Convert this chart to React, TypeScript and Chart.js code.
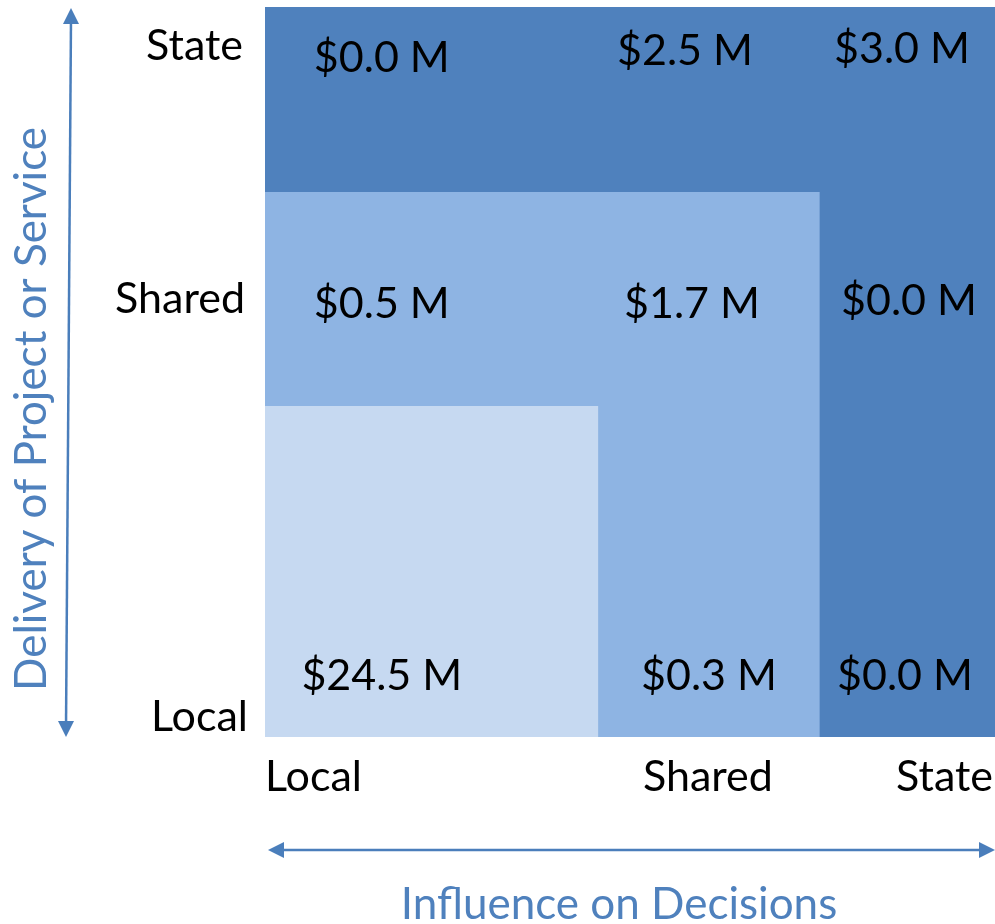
import React, { useEffect, useRef } from "react";
import { Chart, registerables } from "chart.js";

Chart.register(...registerables);

// Axis categories
const influenceLevels = ["Local", "Shared", "State"];
const deliveryLevels = ["Local", "Shared", "State"];
// Tick positions (data units on a 0–3 scale)
const influenceTickValues = [0, 1.82, 3];
const deliveryTickValues = [0.08, 1.8, 2.84];

// Nested zones (back to front): extent along each axis
const zoneNames = ["State", "Shared", "Local"];
const zoneInfluenceExtent = [3, 2.28, 1.37];
const zoneDeliveryExtent = [3, 2.24, 1.36];

// Funding ($M) per delivery row (Local, Shared, State) x influence column (Local, Shared, State)
const localDeliveryValues = [24.5, 0.3, 0.0];
const sharedDeliveryValues = [0.5, 1.7, 0.0];
const stateDeliveryValues = [0.0, 2.5, 3.0];

// Label anchor centres (data units)
const columnCentres = [0.48, 1.8, 2.63];
const rowCentres = [0.26, 1.78, 2.81];

const ZONE_COLORS = ["#4F81BD", "#8EB4E3", "#C6D9F1"];
const AXIS_BLUE = "#4A7EBB";
const FONT = "Lato, 'Open Sans', sans-serif";

// small pixel nudges per cell [row][col] to match the original layout
const NUDGE: [number, number][][] = [
  [[0, 2], [6, 2], [0, 2]],
  [[0, 0], [-11, 0], [4, -3]],
  [[0, 5], [-18, -2], [-3, -4]],
];

export default function App() {
  const ref = useRef<HTMLCanvasElement>(null);

  useEffect(() => {
    if (!ref.current) return;
    const rows = [localDeliveryValues, sharedDeliveryValues, stateDeliveryValues];

    const overlay = {
      id: "overlay",
      afterDatasetsDraw(chart: any) {
        const { ctx, chartArea, scales } = chart;
        const xs = scales.x;
        const ys = scales.y;
        ctx.save();
        // cell value labels
        ctx.fillStyle = "#000";
        ctx.font = `43px ${FONT}`;
        ctx.textAlign = "center";
        ctx.textBaseline = "middle";
        rows.forEach((row, r) => {
          row.forEach((v, c) => {
            const n = NUDGE[r][c];
            const px = xs.getPixelForValue(columnCentres[c]) + n[0];
            const py = ys.getPixelForValue(rowCentres[r]) + n[1];
            ctx.fillText(`$${v.toFixed(1)} M`, px, py);
          });
        });

        // influence (x) tick labels
        const xAligns: CanvasTextAlign[] = ["left", "center", "right"];
        influenceLevels.forEach((lab, i) => {
          ctx.textAlign = xAligns[i];
          let px = xs.getPixelForValue(influenceTickValues[i]);
          if (i === 2) px -= 2;
          ctx.fillText(lab, px, chartArea.bottom + 40);
        });
        // delivery (y) tick labels
        ctx.textAlign = "right";
        const yRight = [248, 245, 243];
        deliveryLevels.forEach((lab, i) => {
          ctx.fillText(lab, yRight[i], ys.getPixelForValue(deliveryTickValues[i]));
        });

        // arrows
        ctx.strokeStyle = AXIS_BLUE;
        ctx.fillStyle = AXIS_BLUE;
        ctx.lineWidth = 2.5;
        // vertical double arrow
        const vx1 = 71, vy1 = chartArea.top + 1, vx2 = 66, vy2 = chartArea.bottom;
        ctx.beginPath();
        ctx.moveTo(vx1, vy1 + 10);
        ctx.lineTo(vx2, vy2 - 10);
        ctx.stroke();
        ctx.beginPath();
        ctx.moveTo(vx1, vy1);
        ctx.lineTo(vx1 - 8, vy1 + 16);
        ctx.lineTo(vx1 + 8, vy1 + 16);
        ctx.closePath();
        ctx.fill();
        ctx.beginPath();
        ctx.moveTo(vx2, vy2);
        ctx.lineTo(vx2 - 8, vy2 - 16);
        ctx.lineTo(vx2 + 8, vy2 - 16);
        ctx.closePath();
        ctx.fill();
        // horizontal double arrow
        const hy = chartArea.bottom + 113, hx1 = chartArea.left + 3, hx2 = chartArea.right;
        ctx.beginPath();
        ctx.moveTo(hx1 + 10, hy);
        ctx.lineTo(hx2 - 10, hy);
        ctx.stroke();
        ctx.beginPath();
        ctx.moveTo(hx1, hy);
        ctx.lineTo(hx1 + 16, hy - 8);
        ctx.lineTo(hx1 + 16, hy + 8);
        ctx.closePath();
        ctx.fill();
        ctx.beginPath();
        ctx.moveTo(hx2, hy);
        ctx.lineTo(hx2 - 16, hy - 8);
        ctx.lineTo(hx2 - 16, hy + 8);
        ctx.closePath();
        ctx.fill();

        // axis titles
        ctx.fillStyle = "#4F81BD";
        ctx.font = `44px ${FONT}`;
        ctx.textAlign = "center";
        ctx.textBaseline = "middle";
        ctx.fillText("Influence on Decisions", 619, chartArea.bottom + 168);
        ctx.translate(32, 409);
        ctx.rotate(-Math.PI / 2);
        ctx.fillText("Delivery of Project or Service", 0, 0);
        ctx.restore();
      },
    };

    const chart = new Chart(ref.current, {
      type: "line",
      data: {
        datasets: zoneNames.map((name, i) => ({
          label: name,
          data: [
            { x: 0, y: zoneDeliveryExtent[i] },
            { x: zoneInfluenceExtent[i], y: zoneDeliveryExtent[i] },
          ],
          fill: "origin",
          backgroundColor: ZONE_COLORS[i],
          borderWidth: 0,
          borderColor: "rgba(0,0,0,0)",
          pointRadius: 0,
          tension: 0,
          order: zoneNames.length - i,
        })),
      },
      options: {
        responsive: false,
        animation: false,
        layout: { padding: { left: 265, right: 0, top: 7, bottom: 187 } },
        plugins: { legend: { display: false }, tooltip: { enabled: false } },
        scales: {
          x: { type: "linear", min: 0, max: 3, display: false },
          y: { type: "linear", min: 0, max: 3, display: false },
        },
      },
      plugins: [overlay],
    });
    return () => chart.destroy();
  }, []);

  return (
    <div style={{ position: "fixed", left: 0, top: 0, width: 995, height: 924, background: "#fff" }}>
      <canvas ref={ref} width={995} height={924} style={{ display: "block" }} />
    </div>
  );
}
